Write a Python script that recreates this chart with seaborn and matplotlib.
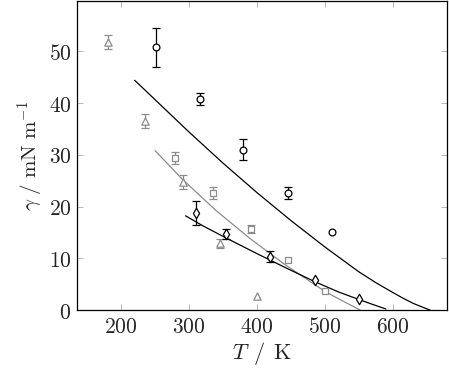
import matplotlib
matplotlib.use("Agg")
import matplotlib.pyplot as plt
import pandas as pd
import seaborn as sns

# measured points (T in K, gamma in mN/m, symmetric error)
circ_T = [251, 316, 380, 446, 511]
circ_g = [50.8, 40.8, 31.0, 22.6, 15.0]
circ_err = [3.8, 1.2, 2.1, 1.2, 0]

tri_T = [180, 235, 291, 346, 400]
tri_g = [51.8, 36.5, 24.7, 12.9, 2.7]
tri_err = [1.3, 1.4, 1.3, 0.9, 0]

sq_T = [280, 336, 391, 446, 500]
sq_g = [29.4, 22.6, 15.6, 9.7, 3.7]
sq_err = [1.2, 1.2, 0.8, 0, 0]

dia_T = [310, 355, 420, 485, 551]
dia_g = [18.7, 14.7, 10.3, 5.8, 2.1]
dia_err = [2.3, 1.0, 1.1, 0, 0]

# curves
fit1_T = [220, 260, 300, 350, 400, 450, 500, 550, 575, 600, 615, 630, 645, 655]
fit1_g = [44.4, 39.4, 34.4, 28.4, 22.7, 17.3, 12.2, 7.4, 5.3, 3.4, 2.3, 1.3, 0.5, 0.0]

fit2_T = [250, 290, 340, 390, 440, 500, 530, 552]
fit2_g = [30.8, 25.3, 19.2, 13.8, 8.9, 3.6, 1.5, 0.0]

fit3_T = [295, 320, 355, 400, 445, 485, 520, 551, 570, 590]
fit3_g = [18.2, 16.3, 13.9, 10.9, 8.0, 5.5, 3.5, 2.0, 1.1, 0.2]

sns.set_style("ticks")
plt.rcParams["mathtext.fontset"] = "cm"
plt.rcParams["font.family"] = ["DejaVu Serif"]

fig = plt.figure(figsize=(4.49, 3.76), dpi=100)
ax = fig.add_axes([0.1715, 0.1755, 0.824, 0.8215])

grey = "0.55"

sns.lineplot(x=fit1_T, y=fit1_g, color="black", lw=0.9, ax=ax, zorder=2)
sns.lineplot(x=fit2_T, y=fit2_g, color=grey, lw=0.9, ax=ax, zorder=2)
sns.lineplot(x=fit3_T, y=fit3_g, color="black", lw=0.9, ax=ax, zorder=2)

series = [
    (circ_T, circ_g, circ_err, "o", "black", 24),
    (tri_T, tri_g, tri_err, "^", grey, 28),
    (sq_T, sq_g, sq_err, "s", grey, 20),
    (dia_T, dia_g, dia_err, "d", "black", 28),
]
for T, g, err, m, c, s in series:
    df = pd.DataFrame({"T": T, "g": g, "err": err})
    eb = df[df["err"] > 0]
    ax.errorbar(eb["T"], eb["g"], yerr=eb["err"], fmt="none", ecolor=c,
                elinewidth=0.9, capsize=3.2, capthick=0.9, zorder=3)
    sns.scatterplot(data=df, x="T", y="g", marker=m, s=s, facecolor="white",
                    edgecolor=c, linewidth=0.9, ax=ax, zorder=4)

ax.set_xlim(135, 680)
ax.set_ylim(0, 59.7)
ax.set_xticks([200, 300, 400, 500, 600])
ax.set_yticks([0, 10, 20, 30, 40, 50])
ax.set_xticklabels([f"${v}$" for v in [200, 300, 400, 500, 600]])
ax.set_yticklabels([f"${v}$" for v in [0, 10, 20, 30, 40, 50]])
ax.tick_params(direction="in", length=4, width=0.5, color="0.6",
               labelsize=15.5, top=True, right=True, pad=4)
for sp in ax.spines.values():
    sp.set_linewidth(0.9)
    sp.set_color("black")

ax.set_xlabel(r"$T\;\,/\;\,\mathrm{K}$", fontsize=16, labelpad=2)
ax.set_ylabel(r"$\gamma\ /\ \mathrm{mN\ m^{-1}}$", fontsize=15, labelpad=3)

fig.savefig("out.png", dpi=100)
